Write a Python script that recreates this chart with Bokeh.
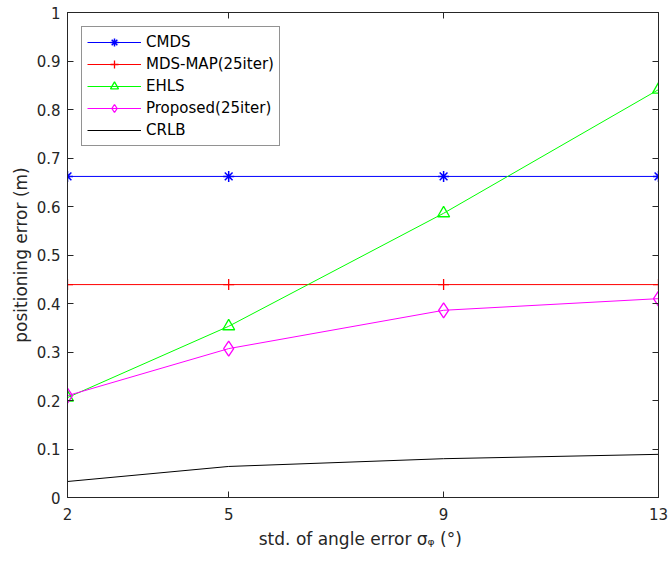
from bokeh.plotting import figure
from bokeh.models import FixedTicker, LinearAxis, Range1d, Legend
from bokeh.embed import file_html
from bokeh.resources import INLINE

# ---- data ----
x_vals = [2, 5, 9, 13]
cmds = [0.662, 0.662, 0.662, 0.662]
mds_map = [0.439, 0.439, 0.439, 0.439]
ehls = [0.206, 0.353, 0.586, 0.841]
proposed = [0.210, 0.307, 0.386, 0.410]
crlb = [0.033, 0.064, 0.080, 0.089]

x_ticks = [2, 5, 9, 13]
y_ticks = [0, 0.1, 0.2, 0.3, 0.4, 0.5, 0.6, 0.7, 0.8, 0.9, 1]
y_tick_labels = ["0", "0.1", "0.2", "0.3", "0.4", "0.5", "0.6", "0.7", "0.8", "0.9", "1"]

FONT = "DejaVu Sans"
TXT = "#262626"

p = figure(frame_width=591, frame_height=485,
           min_border_left=67, min_border_right=10,
           min_border_top=12, min_border_bottom=66,
           x_range=Range1d(2, 13), y_range=Range1d(0, 1),
           output_backend="svg", toolbar_location=None,
           background_fill_color="white", border_fill_color="white")

p.xgrid.visible = False
p.ygrid.visible = False
p.outline_line_color = TXT
p.outline_line_width = 1

def style_axis(ax, labels=True):
    ax.axis_line_color = TXT
    ax.major_tick_line_color = TXT
    ax.major_tick_in = 6
    ax.major_tick_out = 0
    ax.minor_tick_line_color = None
    if labels:
        ax.major_label_text_font = FONT
        ax.major_label_text_font_size = "15px"
        ax.major_label_text_color = TXT
    else:
        ax.major_label_text_font_size = "0px"
        ax.major_label_text_color = None
        ax.major_label_standoff = 0

xa = p.xaxis[0]
ya = p.yaxis[0]
xa.ticker = FixedTicker(ticks=x_ticks)
ya.ticker = FixedTicker(ticks=y_ticks)
ya.major_label_overrides = {t: l for t, l in zip(y_ticks, y_tick_labels)}
style_axis(xa)
style_axis(ya)
xa.major_label_standoff = 10
ya.major_label_standoff = 7
xa.axis_label = "std. of angle error  \u03c3\u1d69 (\u00b0)"
ya.axis_label = "positioning error (m)"
for ax in (xa, ya):
    ax.axis_label_text_font = FONT
    ax.axis_label_text_font_size = "17px"
    ax.axis_label_text_font_style = "normal"
    ax.axis_label_text_color = TXT
xa.axis_label_standoff = 6
ya.axis_label_standoff = 3

top = LinearAxis(ticker=FixedTicker(ticks=x_ticks))
right = LinearAxis(ticker=FixedTicker(ticks=y_ticks))
style_axis(top, labels=False)
style_axis(right, labels=False)
p.add_layout(top, "above")
p.add_layout(right, "right")

items = []
r1 = p.line(x_vals, cmds, line_color="#0000FF", line_width=1)
s1 = p.scatter(x_vals, cmds, marker="asterisk", size=11, line_color="#0000FF", line_width=1.5)
items.append(("CMDS", [r1, s1]))
r2 = p.line(x_vals, mds_map, line_color="#FF0000", line_width=1)
s2 = p.scatter(x_vals, mds_map, marker="cross", size=11, line_color="#FF0000", line_width=1.3)
items.append(("MDS-MAP(25iter)", [r2, s2]))
r3 = p.line(x_vals, ehls, line_color="#00FF00", line_width=1)
s3 = p.scatter(x_vals, ehls, marker="triangle", size=12, line_color="#00FF00", fill_color=None, line_width=1.3)
items.append(("EHLS", [r3, s3]))
r4 = p.line(x_vals, proposed, line_color="#FF00FF", line_width=1)
s4 = p.scatter(x_vals, proposed, marker="diamond", size=15, line_color="#FF00FF", fill_color=None, line_width=1.3)
items.append(("Proposed(25iter)", [r4, s4]))
r5 = p.line(x_vals, crlb, line_color="black", line_width=1)
items.append(("CRLB", [r5]))

legend = Legend(items=items, location="top_left", margin=14,
                border_line_color=TXT, border_line_width=1,
                background_fill_color="white", background_fill_alpha=1,
                label_text_font=FONT, label_text_font_size="15px",
                label_text_color="black",
                glyph_width=54, glyph_height=20, label_height=20,
                spacing=2, padding=5, label_standoff=5)
p.add_layout(legend, "center")

open("out.html", "w").write(file_html(p, INLINE))
